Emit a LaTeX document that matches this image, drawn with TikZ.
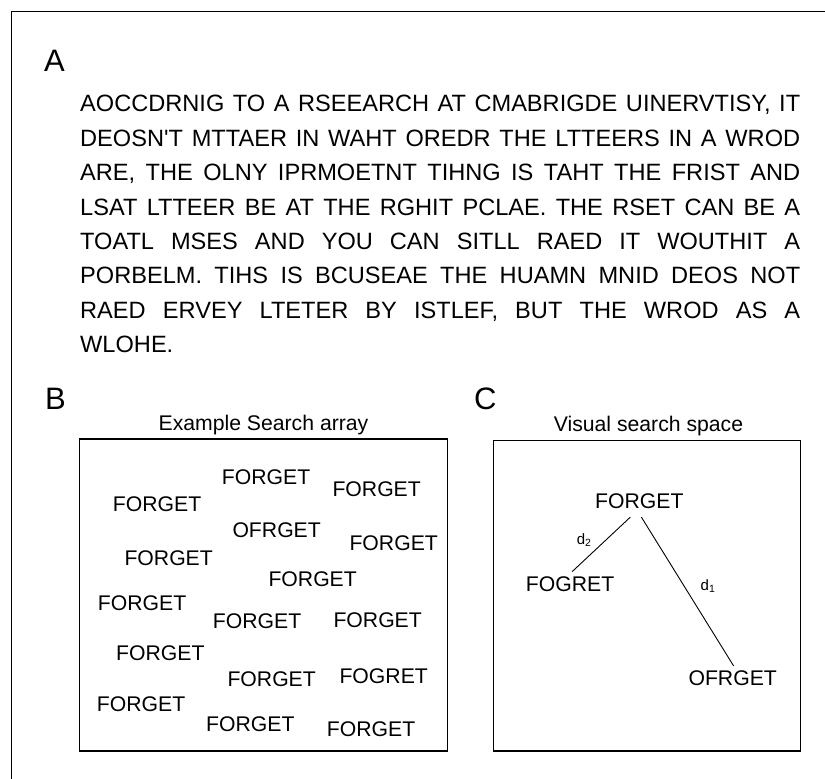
\documentclass[tikz,border=0pt]{standalone}
\usepackage{fontspec}
\setmainfont{Liberation Sans}
\begin{document}
\begin{tikzpicture}[x=1pt,y=-1pt,
  lbl/.style={anchor=base west,inner sep=0pt,font=\fontsize{31}{31}\selectfont},
  para/.style={anchor=base west,inner sep=0pt,font=\fontsize{23.6}{23.6}\selectfont},
  word/.style={anchor=base west,inner sep=0pt,font=\fontsize{21.2}{21.2}\selectfont},
  ttl/.style={anchor=base,inner sep=0pt,font=\fontsize{21.2}{21.2}\selectfont},
  dl/.style={anchor=base west,inner sep=0pt,font=\fontsize{15}{15}\selectfont},
  frame/.style={draw=black,line width=1.2pt},
  conn/.style={draw=black,line width=0.9pt}]
\useasboundingbox (0,0) rectangle (825,779);
\fill[white] (0,0) rectangle (825,779);
% outer frame
\draw[frame] (11.5,779) -- (11.5,11.5) -- (825,11.5);
% A
\node[lbl] (la) at (44,71) {A};
\node[para] (p1) at (80,111.7) {\makebox[720pt][s]{AOCCDRNIG TO A RSEEARCH AT CMABRIGDE UINERVTISY, IT}};
\node[para] (p2) at (80,146.1) {\makebox[720pt][s]{DEOSN\textquotesingle T MTTAER IN WAHT OREDR THE LTTEERS IN A WROD}};
\node[para] (p3) at (80,180.6) {\makebox[720pt][s]{ARE, THE OLNY IPRMOETNT TIHNG IS TAHT THE FRIST AND}};
\node[para] (p4) at (80,215.0) {\makebox[720pt][s]{LSAT LTTEER BE AT THE RGHIT PCLAE. THE RSET CAN BE A}};
\node[para] (p5) at (80,249.5) {\makebox[720pt][s]{TOATL MSES AND YOU CAN SITLL RAED IT WOUTHIT A}};
\node[para] (p6) at (80,283.9) {\makebox[720pt][s]{PORBELM. TIHS IS BCUSEAE THE HUAMN MNID DEOS NOT}};
\node[para] (p7) at (80,318.4) {\makebox[720pt][s]{RAED ERVEY LTETER BY ISTLEF, BUT THE WROD AS A}};
\node[para] (p8) at (80,352.8) {WLOHE.};
% B
\node[lbl] (lb) at (45,409.5) {B};
\node[ttl] (tb) at (263.5,430) {Example Search array};
\draw[frame] (79.3,439) rectangle (447.7,751);
\node[word] (w1) at (221.7,484.3) {FORGET};
\node[word] (w2) at (332.3,496) {FORGET};
\node[word] (w3) at (112.7,511) {FORGET};
\node[word] (w4) at (232.3,537.7) {OFRGET};
\node[word] (w5) at (349.3,550) {FORGET};
\node[word] (w6) at (124.3,565.3) {FORGET};
\node[word] (w7) at (268.3,586.7) {FORGET};
\node[word] (w8) at (97.7,610.7) {FORGET};
\node[word] (w9) at (212.7,628.3) {FORGET};
\node[word] (w10) at (333.3,627.3) {FORGET};
\node[word] (w11) at (116,660.7) {FORGET};
\node[word] (w12) at (227.3,686) {FORGET};
\node[word] (w13) at (339.3,683.3) {FOGRET};
\node[word] (w14) at (96.7,711.7) {FORGET};
\node[word] (w15) at (206,731) {FORGET};
\node[word] (w16) at (326.7,736.7) {FORGET};
% C
\node[lbl] (lc) at (474,409.5) {C};
\node[ttl] (tc) at (648.5,431.7) {Visual search space};
\draw[frame] (493.3,440.3) rectangle (800.3,751);
\node[word] (f) at (595,508.3) {FORGET};
\node[word] (g) at (525.7,591.7) {FOGRET};
\node[word] (o) at (688.3,685) {OFRGET};
\draw[conn] ([shift={(-9,8.4)}]f.south) -- ([shift={(2,-5)}]g.north);
\draw[conn] ([shift={(2,8.4)}]f.south) -- ([shift={(1,-4)}]o.north);
\node[dl] (d2) at (576.7,544) {d\textsubscript{2}};
\node[dl] (d1) at (700.5,590.7) {d\textsubscript{1}};
\end{tikzpicture}
\end{document}
